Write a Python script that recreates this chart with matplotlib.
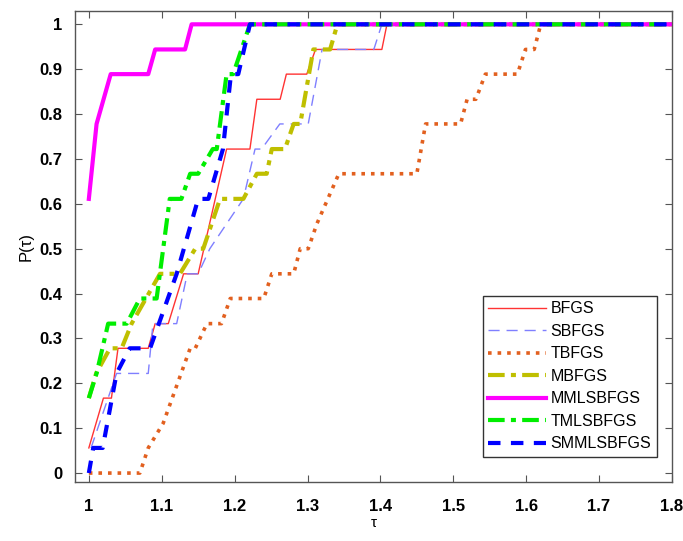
import numpy as np
import matplotlib
matplotlib.use('Agg')
import matplotlib.pyplot as plt

# performance profile data (tau, P(tau))
bfgs_x = [1.0, 1.020, 1.031, 1.040, 1.0815, 1.091, 1.109, 1.130, 1.150, 1.189, 1.221, 1.2305, 1.2625, 1.271, 1.299, 1.311, 1.402, 1.409, 1.8]
bfgs_y = [0.056, 0.167, 0.167, 0.278, 0.278, 0.333, 0.333, 0.444, 0.444, 0.722, 0.722, 0.833, 0.833, 0.889, 0.889, 0.944, 0.944, 1.0, 1.0]

sbfgs_x = [1.003, 1.038, 1.0815, 1.088, 1.1205, 1.135, 1.150, 1.166, 1.212, 1.228, 1.237, 1.262, 1.269, 1.301, 1.320, 1.391, 1.402, 1.8]
sbfgs_y = [0.056, 0.222, 0.222, 0.333, 0.333, 0.444, 0.444, 0.5, 0.611, 0.722, 0.722, 0.778, 0.778, 0.778, 0.944, 0.944, 1.0, 1.0]

tbfgs_x = [1.0, 1.070, 1.0815, 1.102, 1.139, 1.146, 1.162, 1.182, 1.194, 1.240, 1.251, 1.281, 1.290, 1.301, 1.313, 1.343, 1.450, 1.462, 1.510, 1.519, 1.531, 1.544, 1.588, 1.599, 1.611, 1.620, 1.8]
tbfgs_y = [0.0, 0.0, 0.056, 0.111, 0.278, 0.278, 0.333, 0.333, 0.389, 0.389, 0.444, 0.444, 0.5, 0.5, 0.556, 0.667, 0.667, 0.778, 0.778, 0.833, 0.833, 0.889, 0.889, 0.944, 0.944, 1.0, 1.0]

mbfgs_x = [1.0, 1.010, 1.029, 1.045, 1.0587, 1.0976, 1.125, 1.146, 1.157, 1.180, 1.212, 1.2305, 1.244, 1.251, 1.269, 1.281, 1.290, 1.308, 1.331, 1.341, 1.8]
mbfgs_y = [0.167, 0.222, 0.278, 0.278, 0.333, 0.444, 0.444, 0.5, 0.5, 0.611, 0.611, 0.667, 0.667, 0.722, 0.722, 0.778, 0.778, 0.944, 0.944, 1.0, 1.0]

mml_x = [1.0, 1.0106, 1.030, 1.0815, 1.091, 1.132, 1.141, 1.8]
mml_y = [0.611, 0.778, 0.889, 0.889, 0.944, 0.944, 1.0, 1.0]

tml_x = [1.0, 1.0106, 1.0265, 1.052, 1.070, 1.093, 1.111, 1.127, 1.139, 1.150, 1.170, 1.1755, 1.189, 1.198, 1.221, 1.8]
tml_y = [0.167, 0.222, 0.333, 0.333, 0.389, 0.389, 0.611, 0.611, 0.667, 0.667, 0.722, 0.722, 0.889, 0.889, 1.0, 1.0]

smml_x = [1.0, 1.006, 1.019, 1.038, 1.056, 1.084, 1.1205, 1.150, 1.164, 1.184, 1.195, 1.205, 1.221, 1.8]
smml_y = [0.0, 0.056, 0.056, 0.222, 0.278, 0.278, 0.444, 0.611, 0.611, 0.722, 0.889, 0.889, 1.0, 1.0]

names = ['BFGS', 'SBFGS', 'TBFGS', 'MBFGS', 'MMLSBFGS', 'TMLSBFGS', 'SMMLSBFGS']
xtick_labels = ['1', '1.1', '1.2', '1.3', '1.4', '1.5', '1.6', '1.7', '1.8']
ytick_labels = ['0', '0.1', '0.2', '0.3', '0.4', '0.5', '0.6', '0.7', '0.8', '0.9', '1']

plt.rcParams['font.family'] = ['Liberation Sans', 'DejaVu Sans']

fig = plt.figure(figsize=(6.83, 5.41), dpi=100)
ax = fig.add_axes([0.1098, 0.109, 0.874, 0.8706])

ax.plot(bfgs_x, bfgs_y, '-', color='#ff3333', lw=1.0, label=names[0])
ax.plot(sbfgs_x, sbfgs_y, '--', color='#7f7fff', lw=1.0, dashes=(8, 5), label=names[1])
ax.plot(tbfgs_x, tbfgs_y, ':', color='#e2601f', lw=2.6, label=names[2])
ax.plot(mbfgs_x, mbfgs_y, '-.', color='#bfbf00', lw=3.0, dashes=(4, 1.5, 1.2, 1.5), label=names[3])
ax.plot(mml_x, mml_y, '-', color='#ff00ff', lw=3.0, label=names[4])
ax.plot(tml_x, tml_y, '-.', color='#00ee00', lw=3.0, dashes=(4, 1.5, 1.2, 1.5), label=names[5])
ax.plot(smml_x, smml_y, '--', color='#0000ff', lw=3.0, dashes=(3, 2.5), label=names[6])

ax.set_xlim(0.981, 1.8)
ax.set_ylim(-0.02, 1.0296)
ax.set_xticks(np.linspace(1.0, 1.8, 9))
ax.set_xticklabels(xtick_labels)
ax.set_yticks(np.linspace(0, 1, 11))
ax.set_yticklabels(ytick_labels)
ax.tick_params(direction='in', top=True, right=True, length=5, width=0.8,
               color='#555555', labelsize=12)
ax.tick_params(axis='x', pad=12)
ax.tick_params(axis='y', pad=9)
for lbl in ax.get_xticklabels() + ax.get_yticklabels():
    lbl.set_fontweight('bold')
for s in ax.spines.values():
    s.set_color('#555555')
    s.set_linewidth(1.0)

ax.set_xlabel('τ', fontsize=11, labelpad=2)
ax.set_ylabel('P(τ)', fontsize=12, labelpad=4)

leg = ax.legend(loc='lower right', bbox_to_anchor=(0.975, 0.053), fontsize=11.5,
                fancybox=False, edgecolor='#333333', framealpha=1,
                handlelength=3.6, handletextpad=0.3, labelspacing=0.47,
                borderpad=0.35, borderaxespad=0)
leg.get_frame().set_linewidth(1.0)

fig.savefig('out.png', dpi=100)
